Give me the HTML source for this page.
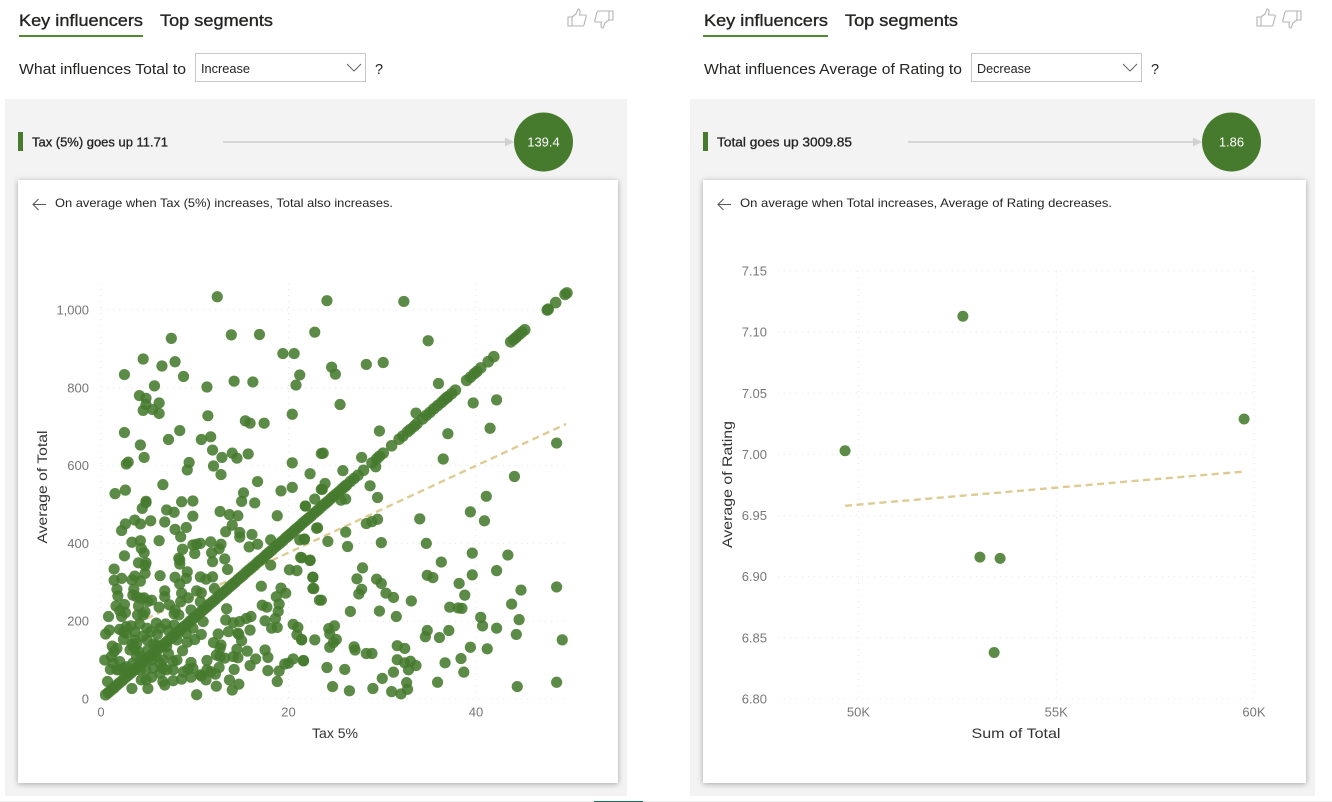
<!DOCTYPE html>
<html lang="en">
<head>
<meta charset="utf-8">
<title>Key influencers</title>
<style>
html,body{margin:0;padding:0;background:#fff;width:1332px;height:802px;overflow:hidden}
svg{display:block;font-family:"Liberation Sans",sans-serif}
.tab{font-size:17px;fill:#252423;stroke:#252423;stroke-width:.35px}
.q{font-size:14.5px;fill:#252423}
.dd{font-size:12.5px;fill:#252423}
.inf{font-size:12.5px;fill:#252423;stroke:#252423;stroke-width:.3px}
.bub{font-size:13px;fill:#fff;text-anchor:middle}
.det{font-size:12px;fill:#252423}
.tick{font-size:13px;fill:#777}
.axt{font-size:14px;fill:#333}
.card{filter:drop-shadow(0 1px 3px rgba(0,0,0,.32))}
.ico{fill:none;stroke:#b3b3b3;stroke-width:1.1}
.grid{stroke:#e4e4e4;stroke-width:1;stroke-dasharray:1 5;fill:none}
.trend{stroke:#ddcb94;stroke-width:2.4;stroke-dasharray:7 4.5;fill:none}
.dot{fill:#467a2d;fill-opacity:.88}
</style>
</head>
<body>
<svg id="root" width="1332" height="802" viewBox="0 0 1332 802" xmlns="http://www.w3.org/2000/svg">
  <!-- LEFT VISUAL -->
  <g>
    <text class="tab" x="19" y="26" textLength="124" lengthAdjust="spacingAndGlyphs">Key influencers</text>
    <rect x="19" y="35" width="124" height="2" fill="#4e8a30"/>
    <text class="tab" x="160" y="26" textLength="113" lengthAdjust="spacingAndGlyphs">Top segments</text>
    <path class="ico" d="M568 17h4v9h-4zM572 17l4-3 2-5c2 0 2.500 2 1.500 6h6c.8 0 1 1 .5 2l-2 8c-.2.6-.6 1-1.400 1h-10.600"/>
    <path class="ico" d="M613 20h-4v-9h4zM609 20l-4 3-2 5c-2 0-2.500-2-1.500-6h-6c-.8 0-1-1-.5-2l2-8c.2-.6.6-1 1.400-1h10.600"/>
    <text class="q" x="19" y="74" textLength="167" lengthAdjust="spacingAndGlyphs">What influences Total to</text>
    <g>
      <rect x="195.500" y="53.500" width="170" height="28" fill="#fff" stroke="#c8c8c8"/>
      <text class="dd" x="201" y="73" textLength="49" lengthAdjust="spacingAndGlyphs">Increase</text>
      <path d="M347 64l7 7 7-7" fill="none" stroke="#666" stroke-width="1"/>
    </g>
    <text class="q" x="375" y="74">?</text>
    <rect x="5" y="99" width="622" height="697" fill="#f3f3f3"/>
    <rect x="18" y="132" width="5" height="19" fill="#467a2d"/>
    <text class="inf" x="32" y="146.500" textLength="136" lengthAdjust="spacingAndGlyphs">Tax (5%) goes up 11.71</text>
    <line x1="223" y1="142" x2="506" y2="142" stroke="#d6d6d6" stroke-width="2"/>
    <path d="M505 137.500l9 4.500-9 4.500z" fill="#d0d0d0"/>
    <circle cx="543.500" cy="142" r="29.500" fill="#467a2d"/>
    <text class="bub" x="543.500" y="146.500">139.4</text>
    <rect class="card" x="18" y="180" width="600" height="603" fill="#fff"/>
    <path d="M46 204.500H33M38.500 199l-5.500 5.500 5.500 5.500" fill="none" stroke="#555" stroke-width="1"/>
    <text class="det" x="55" y="207" textLength="338" lengthAdjust="spacingAndGlyphs">On average when Tax (5%) increases, Total also increases.</text>
    <g id="chartA"></g>
    <text class="axt" transform="translate(47,487) rotate(-90)" text-anchor="middle" textLength="113" lengthAdjust="spacingAndGlyphs">Average of Total</text>
    <text class="axt" x="335" y="738" text-anchor="middle">Tax 5%</text>
  </g>

  <!-- RIGHT VISUAL -->
  <g>
    <text class="tab" x="704" y="26" textLength="124" lengthAdjust="spacingAndGlyphs">Key influencers</text>
    <rect x="703" y="35" width="125" height="2" fill="#4e8a30"/>
    <text class="tab" x="845" y="26" textLength="113" lengthAdjust="spacingAndGlyphs">Top segments</text>
    <path class="ico" d="M1257 17h4v9h-4zM1261 17l4-3 2-5c2 0 2.500 2 1.500 6h6c.8 0 1 1 .5 2l-2 8c-.2.6-.6 1-1.400 1h-10.600"/>
    <path class="ico" d="M1301 20h-4v-9h4zM1297 20l-4 3-2 5c-2 0-2.500-2-1.500-6h-6c-.8 0-1-1-.5-2l2-8c.2-.6.6-1 1.400-1h10.600"/>
    <text class="q" x="704" y="74" textLength="258" lengthAdjust="spacingAndGlyphs">What influences Average of Rating to</text>
    <g>
      <rect x="971.500" y="53.500" width="170" height="28" fill="#fff" stroke="#c8c8c8"/>
      <text class="dd" x="977" y="73" textLength="54" lengthAdjust="spacingAndGlyphs">Decrease</text>
      <path d="M1123 64l7 7 7-7" fill="none" stroke="#666" stroke-width="1"/>
    </g>
    <text class="q" x="1151" y="74">?</text>
    <rect x="690" y="99" width="625" height="697" fill="#f3f3f3"/>
    <rect x="703" y="132" width="5" height="19" fill="#467a2d"/>
    <text class="inf" x="717" y="146.500" textLength="135" lengthAdjust="spacingAndGlyphs">Total goes up 3009.85</text>
    <line x1="908" y1="142" x2="1194" y2="142" stroke="#d6d6d6" stroke-width="2"/>
    <path d="M1193 137.500l9 4.500-9 4.500z" fill="#d0d0d0"/>
    <circle cx="1231.500" cy="142" r="29.500" fill="#467a2d"/>
    <text class="bub" x="1231.500" y="146.500">1.86</text>
    <rect class="card" x="703" y="180" width="603" height="603" fill="#fff"/>
    <path d="M731 204.500H718M723.500 199l-5.500 5.500 5.500 5.500" fill="none" stroke="#555" stroke-width="1"/>
    <text class="det" x="740" y="207" textLength="372" lengthAdjust="spacingAndGlyphs">On average when Total increases, Average of Rating decreases.</text>
    <g id="chartB"></g>
    <text class="axt" transform="translate(732,484.500) rotate(-90)" text-anchor="middle" textLength="127" lengthAdjust="spacingAndGlyphs">Average of Rating</text>
    <text class="axt" x="1016" y="738" text-anchor="middle" textLength="89" lengthAdjust="spacingAndGlyphs">Sum of Total</text>
  </g>

  <rect x="0" y="801" width="1332" height="1" fill="#eeeeee"/>
  <rect x="594" y="801" width="49" height="1" fill="#1f6f5c"/>
</svg>

<script>
// ---- Left chart data: Tax 5% vs Average of Total ----
const taxTicks = [0, 20, 40];
const totalTicks = [0, 200, 400, 600, 800, 1000];
const totalTickLabels = ["0", "200", "400", "600", "800", "1,000"];
const taxTrendX = [0.4, 49.6];
const taxTrendY = [157, 707];
const taxScatter = [
[12.4,1034],[7.5,927],[13.9,936],[16.9,937],[22.8,943],[4.5,874],[7.9,867],[6.5,856],[2.5,834],[8.8,829],[19.4,888],[20.6,888],[21.2,833],[20.8,807],[5.7,805],[11.3,802],[14.2,817],[16.2,815],[4.1,780],[4.8,773],[4.8,757],[6.2,761],[4.5,742],[5.5,744],[6.2,734],[11.4,728],[20.4,732],[15.4,715],[15.9,709],[17.4,709],[2.5,685],[8.4,690],[4.2,653],[7.2,667],[10.7,667],[11.7,674],[11.9,640],[12.9,621],[14.0,632],[14.5,619],[15.7,630],[4.6,621],[2.9,609],[2.7,604],[9.4,608],[9.2,589],[12.0,599],[12.8,577],[20.4,607],[22.3,579],[16.7,559],[6.6,551],[1.5,528],[2.6,537],[4.8,508],[15.2,530],[15.0,508],[16.4,504],[19.2,535],[20.4,544],[22.8,514],[21.8,496],[23.5,539],[23.5,631],[8.6,507],[9.8,509],
[24.1,1024],[32.3,1022],[34.9,921],[28.3,860],[30.1,865],[24.6,853],[25.0,835],[36.0,811],[25.5,757],[39.7,761],[42.2,769],[33.6,735],[29.7,689],[37.0,682],[41.5,696],[48.6,658],[23.7,632],[27.8,621],[36.5,617],[29.3,597],[25.8,587],[23.9,554],[23.6,539],[44.1,572],[28.7,548],[29.5,518],[41.1,521],[26.1,514],[25.6,511],[39.4,481],
[40.9,458],[34,463],[29.5,462],[28.9,456],[28.3,451],[23.1,440],[26.1,429],[24.2,405],[21.7,411],[26.3,392],[29.9,402],[34.7,400],[39.6,375],[43.4,370],[36.3,352],[21.4,363],[22.3,356],[27.9,337],[42.2,330],[39.6,319],[34.8,318],[35.4,312],[29.4,308],[29.9,297],[27.3,309],[22.6,313],[38.2,297],[48.6,288],[44.8,280],[22.7,284],[27.8,282],[27.5,270],[30.4,272],[31.2,261],[38.8,267],[23.5,254],[33.1,252],[43.8,244],[37.2,236],[38.1,234],[38.5,233],[26.6,225],[29.7,226],[31.5,212],[40.5,210],[44.6,204],[40.7,188],[24.9,188],[24.3,181],[24.4,167],[34.8,176],[42.2,182],[37.1,176],[34.6,160],[36.1,158],[44.3,166],[49.2,152],[25.1,153],[24.8,145],[24.4,133],[22.8,152],[21.4,152],[27,134],[27.1,126],[31.6,137],[32.4,130],[39.4,133],[41.2,129],[28.3,117],[28.9,117],[38.4,104],[31.6,101],[32.4,93],[33.0,97],[33.6,86],[36.7,93],[21.6,98],[24.1,81],[26.0,76],[32.8,75],[38.7,69],[31.2,69],[30.0,53],[32.6,42],[35.9,43],[24.7,32],[26.5,21],[29.0,27],[31,19],[32,13],[32.7,25],[44.4,32],[48.6,43],
[2.2,433],[2.6,450],[3.6,460],[4.2,450],[5.3,458],[4.4,490],[4.8,505],[7.0,486],[7.8,480],[6.8,455],[9.8,470],[9.1,441],[7.9,436],[8.5,417],[6.2,407],[3.3,403],[4.2,407],[4.3,387],[4.6,376],[2.5,368],[4.0,350],[4.8,350],[4.7,343],[4.7,323],[1.4,334],[6.3,317],[3.6,316],[2.2,310],[1.4,305],[3.3,306],[4.2,303],[1.7,282],[3.5,282],[1.8,265],[3.4,267],[4.6,260],[5.0,251],[1.6,239],[2.5,243],[4.0,239],[2.0,227],[2.6,222],[2.2,212],[4.7,224],[3.9,216],[0.8,212],[6.2,236],[6.8,278],[6.8,263],[7.3,242],[7.9,229],[8.3,216],[7.8,219],[8.5,250],[9.3,260],[8.6,272],[8.4,296],[9.1,310],[9.2,327],[7.9,313],[8.4,347],[8.4,357],[8.3,362],[8.7,385],[10.0,374],[9.8,396],[10.2,398],[10.6,400],[11.7,404],[12.8,398],[12.6,386],[11.8,376],[11.9,353],[13.2,360],[13.5,333],[10.6,314],[11.2,308],[11.9,314],[12.1,284],[10.2,278],[10.7,273],[10.6,250],[9.6,229],[13.4,232],[17.1,290],[19.2,285],[19.7,272],[18.7,263],[19.0,244],[18.9,225],[17.2,241],[17.7,236],[18.6,207],[17.5,201],[16.0,212],[15.5,207],[14.8,199],[14.1,196],[13.3,203],[15.9,177],[13.6,173],[12.5,167],[18.2,182],[18.8,184],[20.5,192],[21.0,184],[20.9,165],[21.4,153],[14.7,166],[15,150],[12.8,139],[12,145],[14.5,128],[15.6,123],[17.5,126],[17.8,107],[20.5,103],[21.6,99],[20,92],[19.6,90],[16.5,103],[15.9,86],[17.8,73],[19.0,72],[18.8,45],[14.6,106],[13.2,105],[12.3,113],[11.3,99],[12.6,81],[12.2,64],[11.7,70],[14.2,76],[13.7,49],[14.7,38],[14,23],[12.3,33],[10.7,59],[11.2,49],[10.2,11],[9.6,56],[8.6,51],[7.7,47],[6.8,36],[6.6,45],[5.4,56],[4.8,49],[4.3,49],[3.3,27],[5.0,27],[0.7,45],[0.4,100],[1.2,136],[1.4,122],[0.5,167],[0.9,177],[2,179],[2.7,186],[3.2,188],[4.1,193],[4.9,182],[5.3,173],[5.9,195],[6,166],[6.9,193],[7.2,176],[4.5,162],[2.4,153],[3.6,152],[3.3,141],[3.6,130],[4,122],[3.1,126],[5.6,141],[7.2,116],[8.7,124],[6.6,100],[7.7,96],[9.6,94],[9.3,77],[8.8,70],[7.7,75],[6.6,79],[5.6,79],[4.8,75],[2,96],[1.3,92],[1,76],[1.7,75],[2.4,79],[9.2,146],[10,153],[10.7,166],[9.8,182],[10.9,199],[12.7,130],[14.8,428],[16.1,423],[16.7,398],[15.8,391],[18.1,409],[18.8,471],[14,447],[14.6,471],[13.7,474],[12.7,482],[13.3,430],[14.8,416],[21.2,409],[21.7,411],[21.3,364],[22.3,357],[18.1,344],[20.1,332],[20.9,330],[22.6,313],[22.6,284],[23.3,254],[23,439],[21.8,496],
[2.7,83],[3.4,92],[3.8,109],[3.4,135],[3.8,143],[4.3,109],[5,126],[5.9,109],[6.3,92],[5.4,100],[8.1,100],[7,75],[6.3,66],[3.6,75],[2.9,66],[4.2,75],[2,75],[2.7,169],[3.6,173],[2.4,173],[6.3,182],[7.8,190],[8.3,173],[4.9,152],[5.9,139],[7,135],[8.1,152],[9.1,169],[1.1,109],[1.7,130],[4.5,216],[5.4,254],[3.8,263],[4.3,259],[14.1,109],[12.7,109],[14.6,169],[9.8,79],[10.6,62],[11.3,75]
];
const taxDiagonal = [
[0.5,11],[0.8,17],[1.1,23],[1.4,29],[1.7,36],[2.0,42],[2.3,48],[2.6,55],[2.9,61],[3.2,67],[3.5,74],[3.8,80],[4.1,86],[4.4,92],[4.7,99],[5.0,105],[5.3,111],[5.6,118],[5.9,124],[6.2,130],[6.5,137],[6.8,143],[7.1,149],[7.4,155],[7.7,162],[8.0,168],[8.3,174],[8.6,181],[8.9,187],[9.2,193],[9.5,200],[9.8,206],[10.1,212],[10.4,218],[10.7,225],[11,231],[11.3,237],[11.6,244],[11.9,250],[12.2,256],[12.5,263],[12.8,269],[13.1,275],[13.4,281],[13.7,288],[14,294],[14.3,300],[14.6,307],[14.9,313],[15.2,319],[15.5,326],[15.8,332],[16.1,338],[16.4,344],[16.7,351],[17,357],[17.3,363],[17.6,370],[17.9,376],[18.2,382],[18.5,389],[18.8,395],[19.1,401],[19.4,407],[19.7,414],[20,420],[20.3,426],[20.6,433],[20.9,439],[21.2,445],[21.5,452],[21.8,458],[22.1,464],[22.4,470],[22.7,477],[23,483],[23.3,489],[23.6,496],[23.9,502],[24.2,508],[24.5,515],[24.8,521],[25.1,527],[25.4,533],[25.7,540],[26,546],[26.2,550],[26.6,559],[27,567],[27.4,575],[28,588],[28.9,607],[29.4,617],[29.7,624],[30.1,632],[31,651],[31.8,668],[32.2,676],[32.7,687],[33,693],[33.4,701],[33.7,708],[34.3,720],[34.7,729],[35.1,737],[35.5,746],[35.9,754],[36.3,762],[36.6,769],[36.9,775],[37,777],[37.4,785],[37.8,794],[39,819],[39.4,827],[39.8,836],[40.1,842],[40.5,851],[41.3,867],[41.9,880],[43.7,918],[44,924],[44.3,930],[44.6,937],[44.9,943],[45.2,949],[47.6,1000],[47.7,1002],[48.5,1019],[49.5,1040],[49.7,1044]
];

// ---- Right chart data: Sum of Total (K) vs Average of Rating ----
const sumTicks = [50, 55, 60];
const sumTickLabels = ["50K", "55K", "60K"];
const ratingTicks = [6.80, 6.85, 6.90, 6.95, 7.00, 7.05, 7.10, 7.15];
const ratingTickLabels = ["6.80", "6.85", "6.90", "6.95", "7.00", "7.05", "7.10", "7.15"];
const sumValues = [49.66, 52.64, 53.07, 53.58, 53.43, 59.75];
const ratingValues = [7.003, 7.113, 6.916, 6.915, 6.838, 7.029];
const ratingTrendX = [49.66, 59.75];
const ratingTrendY = [6.958, 6.986];

const NS = "http://www.w3.org/2000/svg";
function linear(d0, d1, r0, r1) {
  return function (v) { return r0 + (v - d0) * (r1 - r0) / (d1 - d0); };
}
function gridLine(parent, x1, y1, x2, y2) {
  const el = document.createElementNS(NS, "line");
  el.setAttribute("class", "grid");
  el.setAttribute("x1", x1);
  el.setAttribute("y1", y1);
  el.setAttribute("x2", x2);
  el.setAttribute("y2", y2);
  
  
  parent.appendChild(el);
}
function tickText(parent, x, y, anchor, label) {
  const el = document.createElementNS(NS, "text");
  el.setAttribute("class", "tick");
  el.setAttribute("x", x);
  el.setAttribute("y", y);
  el.setAttribute("text-anchor", anchor);
  el.textContent = label;
  
  
  parent.appendChild(el);
}
function trendLine(parent, xs, ys, sx, sy) {
  const el = document.createElementNS(NS, "line");
  el.setAttribute("class", "trend");
  el.setAttribute("x1", sx(xs[0]));
  el.setAttribute("y1", sy(ys[0]));
  el.setAttribute("x2", sx(xs[1]));
  el.setAttribute("y2", sy(ys[1]));
  
  
  parent.appendChild(el);
}
function dot(parent, cx, cy, r) {
  const el = document.createElementNS(NS, "circle");
  el.setAttribute("class", "dot");
  el.setAttribute("cx", cx);
  el.setAttribute("cy", cy);
  el.setAttribute("r", r);
  
  
  parent.appendChild(el);
}

// Left chart
(function () {
  const g = document.getElementById("chartA");
  const sx = linear(0, 40, 101, 476);
  const sy = linear(0, 1000, 699, 310);
  totalTicks.forEach(function (t, i) {
    gridLine(g, 101, sy(t), 568, sy(t));
    tickText(g, 89, sy(t) + 4.5, "end", totalTickLabels[i]);
  });
  taxTicks.forEach(function (t) {
    gridLine(g, sx(t), 283, sx(t), 699);
    tickText(g, sx(t), 716.5, "middle", String(t));
  });
  trendLine(g, taxTrendX, taxTrendY, sx, sy);
  taxScatter.forEach(function (p) { dot(g, sx(p[0]), sy(p[1]), 5.6); });
  taxDiagonal.forEach(function (p) { dot(g, sx(p[0]), sy(p[1]), 5.8); });
})();

// Right chart
(function () {
  const g = document.getElementById("chartB");
  const sx = linear(50, 60, 858.5, 1254);
  const sy = linear(6.8, 7.15, 699, 271);
  ratingTicks.forEach(function (t, i) {
    gridLine(g, 778, sy(t), 1254, sy(t));
    tickText(g, 767, sy(t) + 4.5, "end", ratingTickLabels[i]);
  });
  sumTicks.forEach(function (t, i) {
    gridLine(g, sx(t), 271, sx(t), 699);
    tickText(g, sx(t), 716.5, "middle", sumTickLabels[i]);
  });
  trendLine(g, ratingTrendX, ratingTrendY, sx, sy);
  sumValues.forEach(function (v, i) { dot(g, sx(v), sy(ratingValues[i]), 5.5); });
})();
</script>
</body>
</html>
